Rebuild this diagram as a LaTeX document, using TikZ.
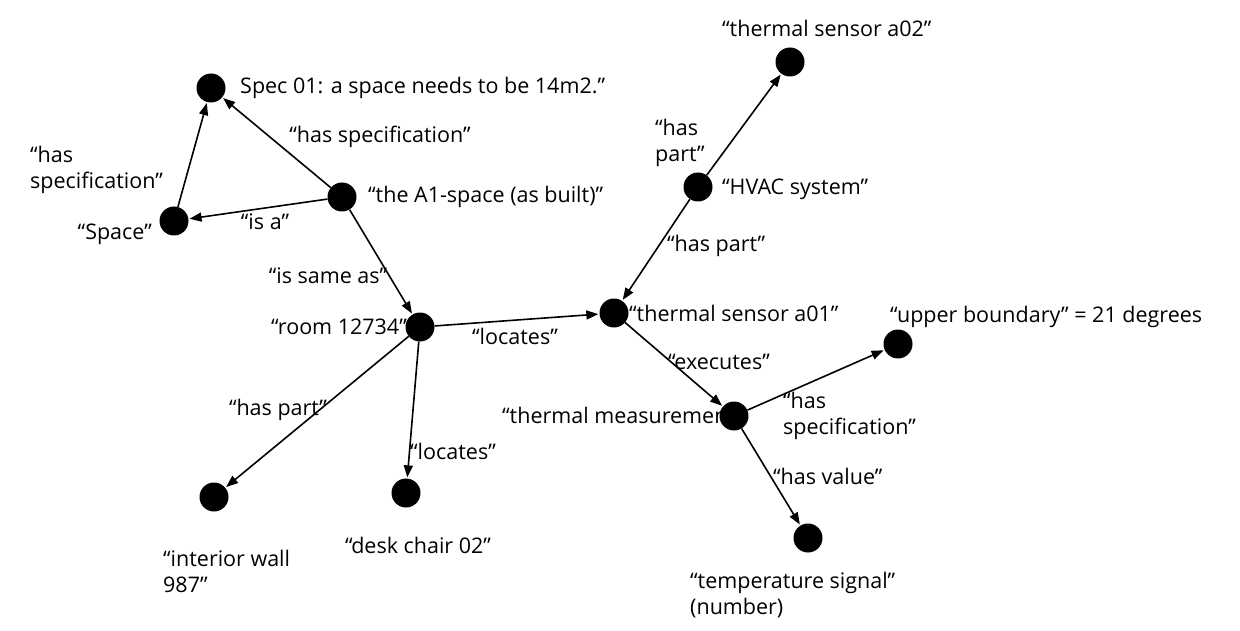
\documentclass[tikz,border=0pt]{standalone}
\usepackage{fontspec}
\setmainfont{Open Sans}
\usetikzlibrary{positioning, arrows.meta}

\begin{document}
\begin{tikzpicture}[
		x=1pt, y=-1pt,
		font=\fontsize{21.5}{26}\selectfont,
		% Node styles
		dot/.style={circle, fill=black, draw=none, minimum size=29pt, inner sep=0pt},
		txt/.style={inner sep=0pt, align=left},
		% Arrow style
		relArrow/.style={-{Triangle[length=12pt, width=9pt]}, line width=1.6pt, shorten >=1pt}
		]
		\useasboundingbox (0, 0) rectangle (1240, 631);
		
		% =========================================================
		% TEXTS OF THE ENTITIES
		% =========================================================
		\node[txt, anchor=west] (SpecTxt) at (240, 88) {Spec 01: a space needs to be 14m2.”};
		\node[txt, anchor=west] (AOneTxt) at (368, 197) {“the A1-space (as built)”};
		\node[txt, anchor=east] (SpaceTxt) at (152, 234) {“Space”};
		\node[txt, anchor=east] (RoomTxt) at (407, 327) {“room 12734”};
		\node[txt, anchor=west] (SensOneTxt) at (629, 313) {“thermal sensor a01”};
		\node[txt, anchor=west] (HvacTxt) at (722, 189) {“HVAC system”};
		\node[txt, anchor=west] (SensTwoTxt) at (722, 28) {“thermal sensor a02”};
		\node[txt, anchor=west] (UpperTxt) at (890, 317) {“upper boundary” = 21 degrees};
		\node[txt, anchor=west] (MeasTxt) at (502, 415) {“thermal measuremen};
		\node[txt, anchor=west] (TempTxt) at (690, 595) {“temperature signal”\\(number)};
		\node[txt, anchor=west] (WallTxt) at (163, 571) {“interior wall\\987”};
		\node[txt] (ChairTxt) at (418, 545) {“desk chair 02”};
		
		% =========================================================
		% ENTITIES (DOTS)
		% =========================================================
		\node[dot] (Spec) at (211, 88) {};
		\node[dot] (Space) at (174, 221) {};
		\node[dot] (AOne) at (342, 197) {};
		\node[dot] (Room) at (420, 327) {};
		\node[dot] (SensOne) at (614, 313) {};
		\node[dot] (Hvac) at (698, 187) {};
		\node[dot] (SensTwo) at (790, 62) {};
		\node[dot] (Upper) at (898, 344) {};
		\node[dot] (Meas) at (734, 416) {};
		\node[dot] (Temp) at (808, 538) {};
		\node[dot] (Wall) at (214, 497) {};
		\node[dot] (Chair) at (406, 493) {};
		
		% =========================================================
		% RELATIONS
		% =========================================================
		\draw[relArrow] (AOne) -- (Spec);
		\draw[relArrow] (Space) -- (Spec);
		\draw[relArrow] (AOne) -- (Space);
		\draw[relArrow] (AOne) -- (Room);
		\draw[relArrow] (Room) -- (SensOne);
		\draw[relArrow] (Room) -- (Wall);
		\draw[relArrow] (Room) -- (Chair);
		\draw[relArrow] (Hvac) -- (SensTwo);
		\draw[relArrow] (Hvac) -- (SensOne);
		\draw[relArrow] (SensOne) -- (Meas);
		\draw[relArrow] (Meas) -- (Upper);
		\draw[relArrow] (Meas) -- (Temp);
		
		% Relation labels
		\node[txt] (LblSpecA) at (380, 137) {“has specification”};
		\node[txt, anchor=west] (LblSpecB) at (30, 170) {“has\\specification”};
		\node[txt] (LblIsA) at (265, 222) {“is a”};
		\node[txt] (LblSame) at (328, 276) {“is same as”};
		\node[txt] (LblLocA) at (515, 336) {“locates”};
		\node[txt, anchor=west] (LblPartA) at (655, 143) {“has\\part”};
		\node[txt, anchor=west] (LblPartB) at (667, 246) {“has part”};
		\node[txt, anchor=west] (LblExec) at (668, 362) {“executes”};
		\node[txt, anchor=west] (LblSpecC) at (783, 416) {“has\\specification”};
		\node[txt, anchor=west] (LblValue) at (773, 476) {“has value”};
		\node[txt] (LblPartC) at (278, 410) {“has part”};
		\node[txt] (LblLocB) at (453, 451) {“locates”};
		
	\end{tikzpicture}
\end{document}
